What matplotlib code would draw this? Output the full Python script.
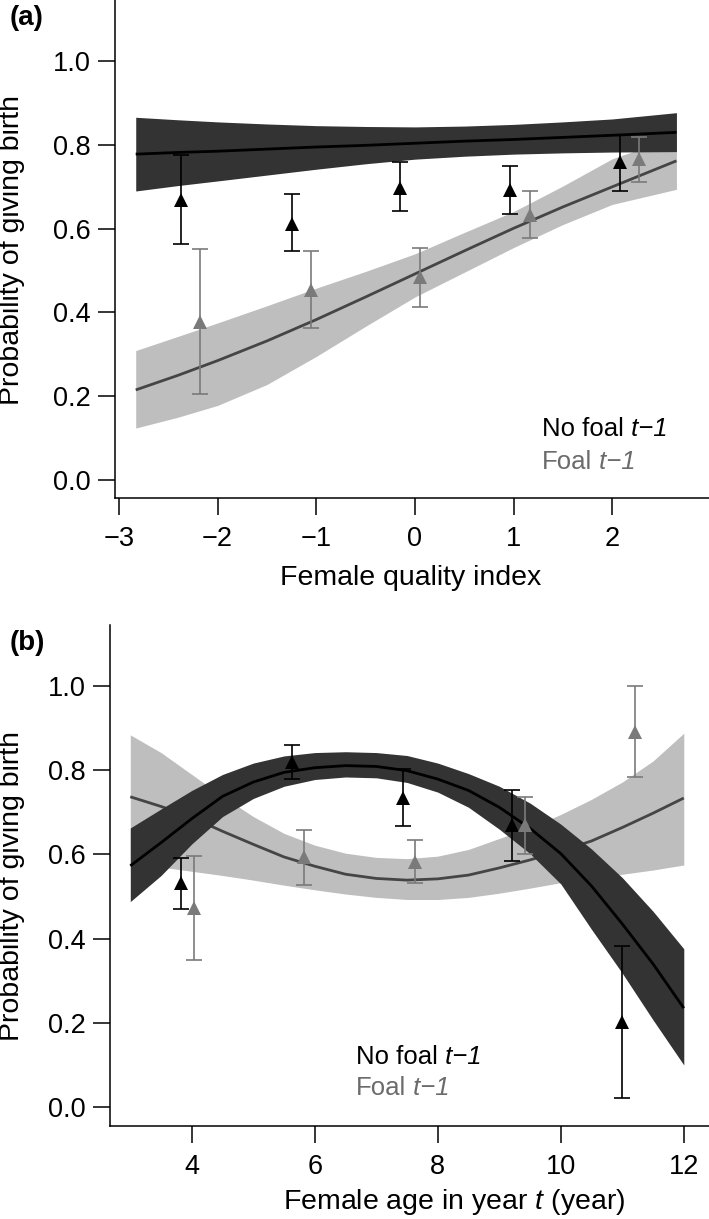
import matplotlib
matplotlib.use('Agg')
import matplotlib.pyplot as plt
from matplotlib.ticker import FormatStrFormatter

plt.rcParams['font.family'] = ['Liberation Sans', 'DejaVu Sans']
plt.rcParams['mathtext.fontset'] = 'custom'
plt.rcParams['mathtext.rm'] = 'Liberation Sans'
plt.rcParams['mathtext.it'] = 'Liberation Sans:italic'

# ---------------- Panel (a): female quality index ----------------
qa_x = [-2.83, -2.4, -2.0, -1.5, -1.0, -0.5, 0.0, 0.5, 1.0, 1.5, 2.0, 2.65]
qa_nofoal_fit = [0.778, 0.782, 0.785, 0.790, 0.795, 0.799, 0.804, 0.809, 0.813, 0.818, 0.823, 0.830]
qa_nofoal_hi = [0.866, 0.860, 0.855, 0.850, 0.846, 0.844, 0.843, 0.845, 0.849, 0.855, 0.862, 0.877]
qa_nofoal_lo = [0.690, 0.703, 0.714, 0.728, 0.742, 0.755, 0.766, 0.773, 0.778, 0.781, 0.783, 0.784]
qa_foal_fit = [0.215, 0.250, 0.285, 0.332, 0.383, 0.437, 0.492, 0.547, 0.601, 0.652, 0.700, 0.762]
qa_foal_hi = [0.309, 0.343, 0.375, 0.416, 0.458, 0.498, 0.540, 0.591, 0.641, 0.702, 0.767, 0.820]
qa_foal_lo = [0.124, 0.150, 0.178, 0.228, 0.295, 0.367, 0.437, 0.496, 0.555, 0.610, 0.658, 0.694]

qa_pts_nofoal_x = [-2.37, -1.25, -0.15, 0.96, 2.08]
qa_pts_nofoal_y = [0.668, 0.611, 0.697, 0.692, 0.760]
qa_pts_nofoal_lo = [0.564, 0.546, 0.642, 0.635, 0.690]
qa_pts_nofoal_hi = [0.776, 0.683, 0.759, 0.749, 0.823]
qa_pts_foal_x = [-2.18, -1.05, 0.05, 1.17, 2.27]
qa_pts_foal_y = [0.378, 0.453, 0.485, 0.632, 0.766]
qa_pts_foal_lo = [0.205, 0.363, 0.414, 0.577, 0.711]
qa_pts_foal_hi = [0.551, 0.546, 0.554, 0.690, 0.819]

qa_xticks = [-3, -2, -1, 0, 1, 2]

# ---------------- Panel (b): female age ----------------
ag_x = [3.0, 3.5, 4.0, 4.5, 5.0, 5.5, 6.0, 6.5, 7.0, 7.5, 8.0, 8.5, 9.0, 9.5, 10.0, 10.5, 11.0, 11.5, 12.0]
ag_nofoal_fit = [0.573, 0.628, 0.685, 0.738, 0.772, 0.795, 0.806, 0.811, 0.809, 0.799, 0.779, 0.752, 0.712,
                 0.662, 0.602, 0.525, 0.435, 0.340, 0.235]
ag_nofoal_hi = [0.663, 0.708, 0.752, 0.790, 0.817, 0.834, 0.842, 0.844, 0.842, 0.835, 0.817, 0.792, 0.762,
                0.722, 0.672, 0.613, 0.545, 0.465, 0.376]
ag_nofoal_lo = [0.488, 0.550, 0.625, 0.690, 0.733, 0.762, 0.778, 0.784, 0.782, 0.771, 0.748, 0.712, 0.660,
                0.602, 0.530, 0.422, 0.318, 0.207, 0.100]
ag_foal_fit = [0.737, 0.714, 0.688, 0.655, 0.624, 0.594, 0.572, 0.553, 0.543, 0.539, 0.542, 0.551, 0.568,
               0.587, 0.608, 0.632, 0.664, 0.698, 0.734]
ag_foal_hi = [0.884, 0.842, 0.790, 0.738, 0.690, 0.650, 0.622, 0.603, 0.593, 0.590, 0.596, 0.612, 0.638,
              0.664, 0.695, 0.731, 0.772, 0.822, 0.888]
ag_foal_lo = [0.578, 0.570, 0.560, 0.550, 0.539, 0.527, 0.516, 0.506, 0.498, 0.493, 0.493, 0.498, 0.508,
              0.520, 0.533, 0.543, 0.553, 0.563, 0.575]

ag_pts_nofoal_x = [3.83, 5.63, 7.43, 9.21, 11.0]
ag_pts_nofoal_y = [0.531, 0.820, 0.735, 0.670, 0.202]
ag_pts_nofoal_lo = [0.470, 0.779, 0.668, 0.585, 0.021]
ag_pts_nofoal_hi = [0.591, 0.861, 0.803, 0.753, 0.382]
ag_pts_foal_x = [4.03, 5.83, 7.63, 9.41, 11.21]
ag_pts_foal_y = [0.472, 0.593, 0.583, 0.670, 0.891]
ag_pts_foal_lo = [0.349, 0.527, 0.533, 0.601, 0.785]
ag_pts_foal_hi = [0.597, 0.658, 0.634, 0.737, 1.000]

ag_xticks = [4, 6, 8, 10, 12]

yticks = [0.0, 0.2, 0.4, 0.6, 0.8, 1.0]

# ---------------- styling ----------------
C_DARK_BAND = '#333333'
C_LIGHT_BAND = '#BEBEBE'
C_GRAY_LINE = '#454545'
C_GRAY_PT = '#7A7A7A'
C_GRAY_TXT = '#6B6B6B'

W, H = 709, 1219
fig = plt.figure(figsize=(W / 100, H / 100), dpi=100)

ax_a = fig.add_axes([115 / W, 1 - 498 / H, (W - 115) / W, 498 / H])
ax_b = fig.add_axes([110 / W, 1 - 1126 / H, (W - 110) / W, (1126 - 625) / H])


def points(ax, px, py, plo, phi, color, z):
    ax.errorbar(px, py,
                yerr=[[y - l for y, l in zip(py, plo)], [h - y for y, h in zip(py, phi)]],
                fmt='none', ecolor=color, elinewidth=1.2, capsize=5.5, capthick=1.2, zorder=z)
    ax.plot(px, py, linestyle='none', marker='^', ms=10.5, mew=0, color=color, zorder=z + 0.5)


def draw(ax, x, nf_fit, nf_lo, nf_hi, f_fit, f_lo, f_hi,
         pnx, pny, pnlo, pnhi, pfx, pfy, pflo, pfhi):
    ax.fill_between(x, f_lo, f_hi, color=C_LIGHT_BAND, lw=0, zorder=1)
    ax.plot(x, f_fit, color=C_GRAY_LINE, lw=2.0, zorder=2, solid_capstyle='butt')
    ax.fill_between(x, nf_lo, nf_hi, color=C_DARK_BAND, lw=0, zorder=3)
    ax.plot(x, nf_fit, color='black', lw=2.0, zorder=4, solid_capstyle='butt')
    points(ax, pnx, pny, pnlo, pnhi, 'black', 5)
    points(ax, pfx, pfy, pflo, pfhi, C_GRAY_PT, 6)


draw(ax_a, qa_x, qa_nofoal_fit, qa_nofoal_lo, qa_nofoal_hi, qa_foal_fit, qa_foal_lo, qa_foal_hi,
     qa_pts_nofoal_x, qa_pts_nofoal_y, qa_pts_nofoal_lo, qa_pts_nofoal_hi,
     qa_pts_foal_x, qa_pts_foal_y, qa_pts_foal_lo, qa_pts_foal_hi)
draw(ax_b, ag_x, ag_nofoal_fit, ag_nofoal_lo, ag_nofoal_hi, ag_foal_fit, ag_foal_lo, ag_foal_hi,
     ag_pts_nofoal_x, ag_pts_nofoal_y, ag_pts_nofoal_lo, ag_pts_nofoal_hi,
     ag_pts_foal_x, ag_pts_foal_y, ag_pts_foal_lo, ag_pts_foal_hi)

ax_a.set_xlim(-3.04, 2.98)
ax_a.set_ylim(-0.043, 1.146)
ax_b.set_xlim(2.67, 12.41)
ax_b.set_ylim(-0.045, 1.145)

for ax, xt in ((ax_a, qa_xticks), (ax_b, ag_xticks)):
    ax.set_xticks(xt)
    ax.set_yticks(yticks)
    ax.yaxis.set_major_formatter(FormatStrFormatter('%.1f'))
    for s in ('top', 'right'):
        ax.spines[s].set_visible(False)
    for s in ('left', 'bottom'):
        ax.spines[s].set_linewidth(1.1)
    ax.tick_params(axis='both', direction='out', length=12, width=1.1, labelsize=19.5, colors='black')
    ax.tick_params(axis='y', pad=5.5)
    ax.tick_params(axis='x', pad=8)


def legend(ax, x, y1, y2):
    t1 = ax.text(x, y1, 'No foal', fontsize=18.5, color='black', ha='left', va='center', zorder=7)
    ax.annotate(' t\u22121', xy=(1, 0), xycoords=t1, ha='left', va='bottom', fontsize=18.5,
                style='italic', color='black')
    t2 = ax.text(x, y2, 'Foal', fontsize=18.5, color=C_GRAY_TXT, ha='left', va='center', zorder=7)
    ax.annotate(' t\u22121', xy=(1, 0), xycoords=t2, ha='left', va='bottom', fontsize=18.5,
                style='italic', color=C_GRAY_TXT)


legend(ax_a, 1.29, 0.122, 0.043)
legend(ax_b, 6.67, 0.119, 0.045)

# Panel letters
fig.text(10 / W, 1 - 18 / H, '(a)', fontsize=20, fontweight='bold', ha='left', va='center')
fig.text(10 / W, 1 - 643 / H, '(b)', fontsize=20, fontweight='bold', ha='left', va='center')

# Axis labels
fig.text(12 / W, 1 - 250 / H, 'Probability of giving birth', fontsize=20.5, rotation=90,
         ha='center', va='center')
fig.text(12 / W, 1 - 886 / H, 'Probability of giving birth', fontsize=20.5, rotation=90,
         ha='center', va='center')
fig.text(411 / W, 1 - 578 / H, 'Female quality index', fontsize=20.5, ha='center', va='center')
fig.text(454 / W, 1 - 1202 / H, r'Female age in year $\mathit{t}$ (year)', fontsize=20.5,
         ha='center', va='center')

fig.savefig('out.png', dpi=100)
